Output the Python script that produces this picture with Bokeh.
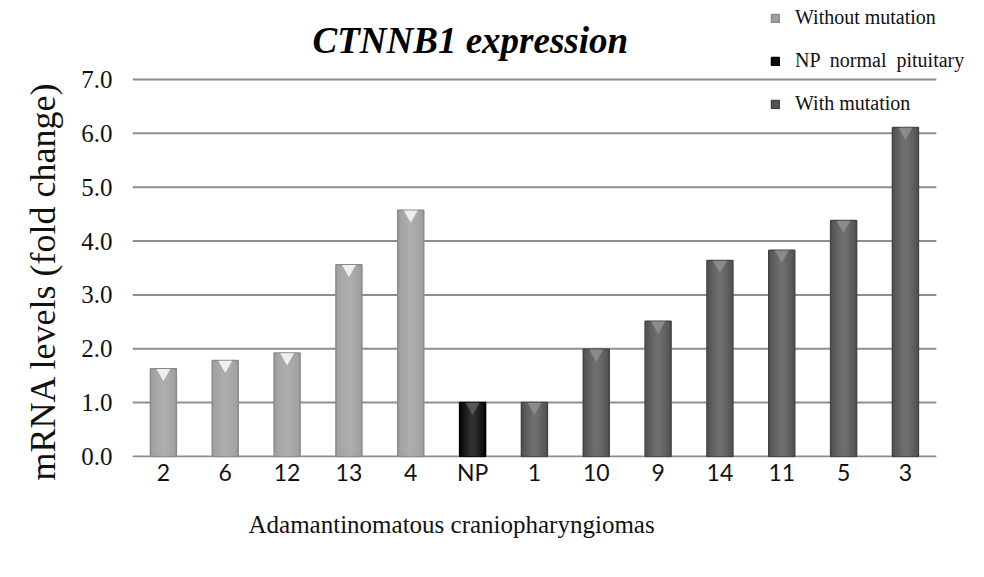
from bokeh.plotting import figure
from bokeh.models import (Range1d, FixedTicker, Label, Legend, LegendItem, Title,
                          ColumnDataSource, NumeralTickFormatter)
from bokeh.transform import factor_cmap, dodge
from bokeh.embed import file_html
from bokeh.resources import INLINE

# ---- data ----
cases = ["2", "6", "12", "13", "4", "NP", "1", "10", "9", "14", "11", "5", "3"]
levels = [1.63, 1.78, 1.92, 3.56, 4.57, 1.0, 1.0, 1.99, 2.51, 3.64, 3.83, 4.38, 6.11]
groups = (["Without mutation"] * 5 + ["NP  normal  pituitary"] + ["With mutation"] * 7)
group_names = ["Without mutation", "NP  normal  pituitary", "With mutation"]
y_ticks = [0, 1, 2, 3, 4, 5, 6, 7]

# ---- styles ----
bar_colors = ["#a0a0a0", "#0a0a0a", "#545454"]
edge_colors = ["#8a8a8a", "#000000", "#444444"]
tip_colors = ["#f6f6f6", "#5a5a5a", "#8e8e8e"]

pos = list(range(len(cases)))
src = ColumnDataSource(dict(pos=pos, case=cases, level=levels, group=groups))
grid_src = ColumnDataSource(dict(y=y_ticks))

x_lo = -0.5
x_hi = len(cases) - 0.5
p = figure(width=968, height=561, x_range=Range1d(x_lo, x_hi + 0.52),
           y_range=Range1d(-0.02, 8.467),
           output_backend="svg", toolbar_location=None,
           min_border_left=132, min_border_right=0, min_border_top=0,
           min_border_bottom=104)
p.outline_line_color = None
p.background_fill_color = "white"
p.xgrid.grid_line_color = None
p.ygrid.grid_line_color = None

# horizontal gridlines spanning the category area only
p.segment(x0=x_lo, x1=x_hi, y0="y", y1="y", source=grid_src,
          line_color="#8e8e8e", line_width=2)

# bars with a soft cylinder shading
bars = p.vbar(x="pos", top="level", width=0.42, source=src,
              fill_color=factor_cmap("group", bar_colors, group_names),
              line_color=factor_cmap("group", edge_colors, group_names),
              line_width=1.5)
for w in (0.34, 0.26, 0.18, 0.10):
    p.vbar(x="pos", top="level", width=w, source=src,
           fill_color="white", fill_alpha=0.045, line_color=None)
p.scatter(x="pos", y=dodge("level", -0.08), source=src, marker="inverted_triangle",
          size=14, fill_color=factor_cmap("group", tip_colors, group_names),
          line_color=None, fill_alpha=0.9)

# axes
p.yaxis.ticker = FixedTicker(ticks=y_ticks)
p.yaxis.formatter = NumeralTickFormatter(format="0.0")
p.xaxis.ticker = FixedTicker(ticks=pos)
p.xaxis.major_label_overrides = {i: c for i, c in zip(pos, cases)}
for ax in (p.xaxis, p.yaxis):
    ax.axis_line_color = None
    ax.major_tick_line_color = None
    ax.minor_tick_line_color = None
    ax.major_tick_out = 0
    ax.major_tick_in = 0
    ax.minor_tick_out = 0

p.yaxis.major_label_text_font = "Liberation Serif"
p.yaxis.major_label_text_font_size = "25px"
p.yaxis.major_label_text_color = "#111111"
p.yaxis.major_label_standoff = 20

p.xaxis.major_label_text_font = "Lato"
p.xaxis.major_label_text_font_size = "23px"
p.xaxis.major_label_text_color = "#111111"
p.xaxis.major_label_standoff = 0

# y-axis title
p.add_layout(Title(text="mRNA levels (fold change)", align="left", offset=-23,
                   vertical_align="top",
                   text_font="Liberation Serif", text_font_size="36px",
                   text_font_style="normal", text_color="#111111", standoff=28),
             "left")

# x-axis title
p.add_layout(Title(text="Adamantinomatous craniopharyngiomas", align="left", offset=116,
                   vertical_align="bottom",
                   text_font="Liberation Serif", text_font_size="25px",
                   text_font_style="normal", text_color="#111111", standoff=40),
             "below")

# chart title
p.add_layout(Label(x=180, y=417, x_units="screen", y_units="screen",
                   text="CTNNB1 expression", text_font="Liberation Serif",
                   text_font_size="37px", text_font_style="bold italic",
                   text_color="#000000", text_baseline="middle", text_align="left"))

# legend
items = [LegendItem(label=group_names[i], renderers=[bars], index=idx)
         for i, idx in enumerate([0, 5, 6])]
legend = Legend(items=items, location=(638, 342), padding=0, margin=0,
                spacing=20, glyph_width=10, glyph_height=10, label_height=22,
                label_standoff=15, label_text_font="Liberation Serif",
                label_text_font_size="20px", label_text_color="#111111",
                background_fill_alpha=0, border_line_color=None)
p.add_layout(legend)

open("out.html", "w").write(file_html(p, INLINE))
